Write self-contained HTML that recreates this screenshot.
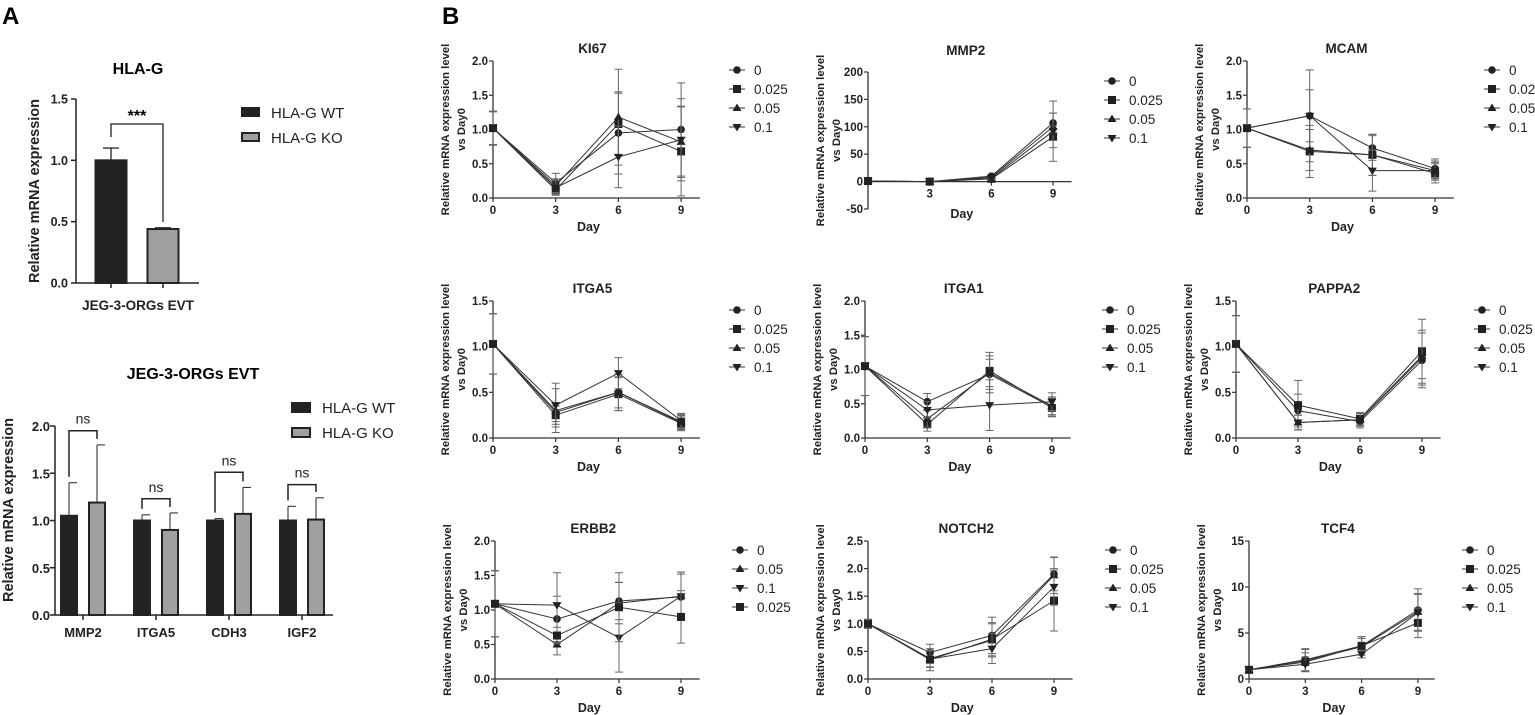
<!DOCTYPE html>
<html><head><meta charset="utf-8">
<style>
body{margin:0;background:#fff;}
svg{display:block;font-family:"Liberation Sans",Arial,sans-serif;}
</style></head>
<body>
<svg id="fig" width="1535" height="715" viewBox="0 0 1535 715" xmlns="http://www.w3.org/2000/svg">
<text x="2" y="24" font-size="24" font-weight="bold">A</text>
<text x="442" y="24" font-size="24" font-weight="bold">B</text>
<g id="gA1"></g>
<g id="gA2"></g>
<g id="gB"></g>
</svg>
<script>
// ---------- Panel A data ----------
const a1Groups = ["HLA-G WT","HLA-G KO"];
const a1Values = [1.0, 0.44];
const a1Errors = [0.1, 0.01];
const a2Categories = ["MMP2","ITGA5","CDH3","IGF2"];
const a2WT = [1.05, 1.0, 1.0, 1.0];
const a2WTErr = [0.35, 0.06, 0.02, 0.15];
const a2KO = [1.19, 0.9, 1.07, 1.01];
const a2KOErr = [0.61, 0.18, 0.28, 0.23];
const a2Bracket = [1.95, 1.23, 1.51, 1.38];

// ---------- Panel B data ----------
const days = [0,3,6,9];
const ki67 = [[1.02,0.22,0.95,1.0],[1.02,0.12,1.08,0.68],[1.02,0.18,1.18,0.82],[1.02,0.15,0.6,0.85]];
const ki67Err = [[0.25,0.14,0.6,0.68],[0.24,0.08,0.45,0.65],[0.24,0.1,0.7,0.52],[0.24,0.1,0.45,0.6]];
const mmp2 = [[1,0,10,107],[1,0,5,82],[1,0,8,100],[1,0,6,92]];
const mmp2Err = [[0,0,3,18],[0,0,2,20],[0,0,2,25],[0,0,2,55]];
const mcam = [[1.02,1.2,0.73,0.43],[1.02,0.68,0.63,0.36],[1.02,0.7,0.63,0.4],[1.02,1.2,0.4,0.4]];
const mcamErr = [[0.28,0.67,0.18,0.14],[0.28,0.38,0.3,0.14],[0.28,0.3,0.3,0.14],[0.28,0.38,0.3,0.12]];
const itga5 = [[1.03,0.28,0.5,0.17],[1.03,0.25,0.48,0.16],[1.03,0.3,0.5,0.18],[1.03,0.36,0.71,0.19]];
const itga5Err = [[0.33,0.1,0.17,0.08],[0.33,0.1,0.18,0.08],[0.33,0.24,0.2,0.08],[0.33,0.24,0.17,0.08]];
const itga1 = [[1.05,0.53,0.93,0.45],[1.05,0.2,0.98,0.44],[1.05,0.28,0.95,0.47],[1.05,0.41,0.48,0.53]];
const itga1Err = [[0.43,0.12,0.27,0.13],[0.43,0.1,0.27,0.13],[0.43,0.12,0.2,0.13],[0.43,0.12,0.37,0.13]];
const pappa2 = [[1.03,0.3,0.18,0.85],[1.03,0.36,0.21,0.95],[1.03,0.17,0.2,0.9],[1.03,0.17,0.2,0.88]];
const pappa2Err = [[0.31,0.18,0.07,0.3],[0.31,0.27,0.07,0.35],[0.31,0.08,0.07,0.25],[0.31,0.08,0.07,0.3]];
const erbb2 = [[1.09,0.87,1.13,1.19],[1.09,0.5,1.1,1.2],[1.09,1.07,0.6,1.2],[1.09,0.63,1.04,0.9]];
const erbb2Err = [[0.48,0.33,0.27,0.33],[0.48,0.15,0.3,0.35],[0.48,0.47,0.5,0.35],[0.48,0.12,0.5,0.38]];
const notch2 = [[1.0,0.48,0.79,1.9],[1.0,0.35,0.72,1.42],[1.0,0.37,0.7,1.88],[1.0,0.36,0.55,1.67]];
const notch2Err = [[0.08,0.15,0.33,0.3],[0.08,0.2,0.3,0.55],[0.08,0.15,0.3,0.33],[0.08,0.15,0.27,0.33]];
const tcf4 = [[1,2.1,3.6,7.5],[1,1.85,3.6,6.1],[1,2.0,3.5,7.3],[1,1.6,2.7,7.2]];
const tcf4Err = [[0.1,1.2,1.0,2.3],[0.1,1.0,1.0,1.6],[0.1,1.2,0.9,2.0],[0.1,0.8,0.4,2.0]];
const legend4 = ["0","0.025","0.05","0.1"];
const legendErbb2 = ["0","0.05","0.1","0.025"];

const NS="http://www.w3.org/2000/svg";
function mk(parent,tag,attrs,text){const e=document.createElementNS(NS,tag);for(const k in attrs)e.setAttribute(k,attrs[k]);if(text!==undefined)e.textContent=text;parent.appendChild(e);return e;}

// ---------- Panel A1 ----------
(function(){
const g=document.getElementById('gA1');
const ax=76, y0=283, yTop=99, ymax=1.5;
const Y=v=>y0-(v/ymax)*(y0-yTop);
const centers=[111,163], bw=33;
let t=mk(g,'text',{x:138,y:74,'font-size':16,'font-weight':'bold','text-anchor':'middle'},'HLA-G');


a1Values.forEach((v,i)=>{
  const fill=i===0?'#222':'#a0a0a0';
  const r=mk(g,'rect',{x:centers[i]-bw/2+1,y:Y(v),width:bw-2,height:y0-Y(v),fill:fill,stroke:'#222','stroke-width':2});
  
  
  mk(g,'line',{x1:centers[i],x2:centers[i],y1:Y(v),y2:Y(v+a1Errors[i]),stroke:'#222','stroke-width':1.3});
  mk(g,'line',{x1:centers[i]-8,x2:centers[i]+8,y1:Y(v+a1Errors[i]),y2:Y(v+a1Errors[i]),stroke:'#222','stroke-width':1.3});
  mk(g,'line',{x1:centers[i],x2:centers[i],y1:y0,y2:y0+5,stroke:'#222','stroke-width':1.5});
});
mk(g,'line',{x1:ax,x2:ax,y1:yTop,y2:y0,stroke:'#222','stroke-width':1.5});
mk(g,'line',{x1:ax,x2:199,y1:y0,y2:y0,stroke:'#222','stroke-width':1.5});
[0,0.5,1.0,1.5].forEach(v=>{
  mk(g,'line',{x1:ax-5,x2:ax,y1:Y(v),y2:Y(v),stroke:'#222','stroke-width':1.5});
  mk(g,'text',{x:ax-8,y:Y(v)+4.5,'font-size':12.5,'font-weight':'bold','text-anchor':'end',fill:'#222'},v.toFixed(1));
});
mk(g,'path',{d:`M111 137 V124 H163 V222`,fill:'none',stroke:'#222','stroke-width':1.3});
mk(g,'text',{x:137,y:121,'font-size':16,'font-weight':'bold','text-anchor':'middle'},'***');
mk(g,'text',{x:138,y:310,'font-size':13.5,'font-weight':'bold','text-anchor':'middle',fill:'#222'},'JEG-3-ORGs EVT');
mk(g,'text',{x:0,y:0,'font-size':14.5,'font-weight':'bold','text-anchor':'middle',fill:'#222',transform:'translate(39,191) rotate(-90)'},'Relative mRNA expression');
a1Groups.forEach((n,i)=>{
  const ly=112+25*i;
  const r=mk(g,'rect',{x:242,y:ly-4,width:17,height:8,fill:i===0?'#222':'#a0a0a0',stroke:'#222','stroke-width':2});
  
  
  mk(g,'text',{x:271,y:ly+6,'font-size':15,fill:'#222'},n);
});
})();

// ---------- Panel A2 ----------
(function(){
const g=document.getElementById('gA2');
const ax=55, y0=615, yTop=426, ymax=2.0;
const Y=v=>y0-(v/ymax)*(y0-yTop);
const X=i=>83+73*i;
mk(g,'text',{x:193,y:379,'font-size':16,'font-weight':'bold','text-anchor':'middle'},'JEG-3-ORGs EVT');
a2Categories.forEach((c,i)=>{
  const cx=X(i);
  [[a2WT,a2WTErr,'#222',-14,'wt'],[a2KO,a2KOErr,'#a0a0a0',14,'ko']].forEach(s=>{
    const v=s[0][i], e=s[1][i], bx=cx+s[3];
    const r=mk(g,'rect',{x:bx-8,y:Y(v),width:16,height:y0-Y(v),fill:s[2],stroke:'#222','stroke-width':2});
    
    
    mk(g,'line',{x1:bx,x2:bx,y1:Y(v),y2:Y(v+e),stroke:'#222','stroke-width':1});
    mk(g,'line',{x1:bx,x2:bx+8,y1:Y(v+e),y2:Y(v+e),stroke:'#222','stroke-width':1});
  });
  mk(g,'line',{x1:cx,x2:cx,y1:y0,y2:y0+5,stroke:'#222','stroke-width':1.5});
  mk(g,'text',{x:cx,y:y0+22,'font-size':13,'font-weight':'bold','text-anchor':'middle',fill:'#222'},c);
  const by=Y(a2Bracket[i]);
  const lb=Y(a2WT[i]+a2WTErr[i])-6, rb=Y(a2KO[i]+a2KOErr[i])-6;
  mk(g,'path',{d:`M${cx-14} ${lb} V${by} H${cx+14} V${rb}`,fill:'none',stroke:'#222','stroke-width':1.5});
  mk(g,'text',{x:cx,y:by-7,'font-size':14,'text-anchor':'middle',fill:'#222'},'ns');
});
mk(g,'line',{x1:ax,x2:ax,y1:yTop,y2:y0,stroke:'#222','stroke-width':1.5});
mk(g,'line',{x1:ax,x2:333,y1:y0,y2:y0,stroke:'#222','stroke-width':1.5});
[0,0.5,1.0,1.5,2.0].forEach(v=>{
  mk(g,'line',{x1:ax-5,x2:ax,y1:Y(v),y2:Y(v),stroke:'#222','stroke-width':1.5});
  mk(g,'text',{x:ax-5,y:Y(v)+5,'font-size':13,'font-weight':'bold','text-anchor':'end',fill:'#222'},v.toFixed(1));
});
mk(g,'text',{x:0,y:0,'font-size':14.5,'font-weight':'bold','text-anchor':'middle',fill:'#222',transform:'translate(13,510) rotate(-90)'},'Relative mRNA expression');
["HLA-G WT","HLA-G KO"].forEach((n,i)=>{
  const ly=407+25*i;
  mk(g,'rect',{x:292,y:ly-4,width:18,height:9,fill:i===0?'#222':'#a0a0a0',stroke:'#222','stroke-width':2});
  mk(g,'text',{x:322,y:ly+6,'font-size':15,fill:'#222'},n);
});
})();

// ---------- Panel B ----------
function marker(g,kind,x,y){
  if(kind===0) return mk(g,'circle',{cx:x,cy:y,r:3.8,fill:'#222'});
  if(kind===1) return mk(g,'rect',{x:x-4,y:y-4,width:8,height:8,fill:'#222'});
  if(kind===2) return mk(g,'path',{d:`M${x} ${y-4.5} L${x+4.5} ${y+3} L${x-4.5} ${y+3}Z`,fill:'#222'});
  return mk(g,'path',{d:`M${x} ${y+4.5} L${x+4.5} ${y-3} L${x-4.5} ${y-3}Z`,fill:'#222'});
}
function lineChart(cfg){
  const root=document.getElementById('gB');
  const g=mk(root,'g',{});
  
  
  const {ax,top,bot,per3,ymin,ymax}=cfg;
  const X=d=>ax+d/3*per3;
  const Y=v=>bot-(v-ymin)/(ymax-ymin)*(bot-top);
  const xEnd=ax+per3*3.3;
  const xAxisY=Y(Math.max(0,ymin));
  const tt=mk(g,'text',{x:(ax+xEnd)/2-4,y:cfg.titleY,'font-size':13.5,'font-weight':'bold','text-anchor':'middle',fill:'#222'},cfg.title);
  
  
  mk(g,'line',{x1:ax,x2:ax,y1:top,y2:bot,stroke:'#333','stroke-width':1.3});
  mk(g,'line',{x1:ax,x2:xEnd,y1:xAxisY,y2:xAxisY,stroke:'#333','stroke-width':1.3});
  cfg.ticks.forEach(v=>{
    mk(g,'line',{x1:ax-4,x2:ax,y1:Y(v),y2:Y(v),stroke:'#333','stroke-width':1.2});
    mk(g,'text',{x:ax-5,y:Y(v)+4,'font-size':11.5,'font-weight':'bold','text-anchor':'end',fill:'#222'},cfg.tickFmt(v));
  });
  days.forEach(d=>{
    mk(g,'line',{x1:X(d),x2:X(d),y1:xAxisY,y2:xAxisY+4,stroke:'#333','stroke-width':1.2});
    if(!(cfg.hideZeroX&&d===0)) mk(g,'text',{x:X(d),y:xAxisY+16,'font-size':11.5,'font-weight':'bold','text-anchor':'middle',fill:'#222'},String(d));
  });
  mk(g,'text',{x:(ax+xEnd)/2-8,y:cfg.dayY||(bot+33),'font-size':12.5,'font-weight':'bold','text-anchor':'middle',fill:'#222'},'Day');
  const my=(top+bot)/2;
  mk(g,'text',{x:0,y:0,'font-size':11.3,'font-weight':'bold','text-anchor':'middle',fill:'#222',transform:`translate(${ax-44},${my}) rotate(-90)`},'Relative mRNA expression level');
  mk(g,'text',{x:0,y:0,'font-size':11.3,'font-weight':'bold','text-anchor':'middle',fill:'#222',transform:`translate(${ax-28},${my}) rotate(-90)`},'vs Day0');
  cfg.data.forEach((s,si)=>{
    const kind=cfg.kinds[si];
    s.forEach((v,di)=>{
      const e=cfg.err[si][di];
      if(e>0){
        const x=X(days[di]);
        mk(g,'line',{x1:x,x2:x,y1:Y(v-e),y2:Y(v+e),stroke:'#666','stroke-width':1});
        mk(g,'line',{x1:x-4,x2:x+4,y1:Y(v-e),y2:Y(v-e),stroke:'#666','stroke-width':1});
        mk(g,'line',{x1:x-4,x2:x+4,y1:Y(v+e),y2:Y(v+e),stroke:'#666','stroke-width':1});
      }
    });
    const pts=s.map((v,di)=>X(days[di])+','+Y(v)).join(' ');
    const pl=mk(g,'polyline',{points:pts,fill:'none',stroke:'#333','stroke-width':1});
    
    
    s.forEach((v,di)=>{
      const m=marker(g,kind,X(days[di]),Y(v));
      
      
    });
  });
  cfg.legend.forEach((n,i)=>{
    const ly=top+9+19*i, lx=cfg.lx;
    const le=mk(g,'g',{});
    
    
    mk(le,'line',{x1:lx-8,x2:lx+8,y1:ly,y2:ly,stroke:'#333','stroke-width':1});
    marker(le,cfg.kinds[i],lx,ly);
    mk(le,'text',{x:lx+17,y:ly+5,'font-size':13.5,fill:'#222'},n);
  });
}
const f1=v=>v.toFixed(1), f0=v=>String(v);
const K=[0,1,2,3], KE=[0,2,3,1];
lineChart({name:'ki67',title:'KI67',titleY:53,ax:493,top:61,bot:198,per3:62.7,ymin:0,ymax:2,ticks:[0,0.5,1,1.5,2],tickFmt:f1,data:ki67,err:ki67Err,kinds:K,legend:legend4,lx:737});
lineChart({name:'mmp2',title:'MMP2',titleY:55,ax:868,top:72,bot:209,per3:61.7,ymin:-50,ymax:200,ticks:[-50,0,50,100,150,200],tickFmt:f0,data:mmp2,err:mmp2Err,kinds:K,legend:legend4,lx:1112,hideZeroX:true,dayY:218});
lineChart({name:'mcam',title:'MCAM',titleY:53,ax:1247,top:61,bot:198,per3:62.7,ymin:0,ymax:2,ticks:[0,0.5,1,1.5,2],tickFmt:f1,data:mcam,err:mcamErr,kinds:K,legend:legend4,lx:1492});
lineChart({name:'itga5',title:'ITGA5',titleY:293,ax:493,top:301,bot:438,per3:62.7,ymin:0,ymax:1.5,ticks:[0,0.5,1,1.5],tickFmt:f1,data:itga5,err:itga5Err,kinds:K,legend:legend4,lx:737});
lineChart({name:'itga1',title:'ITGA1',titleY:293,ax:865,top:301,bot:438,per3:62.3,ymin:0,ymax:2,ticks:[0,0.5,1,1.5,2],tickFmt:f1,data:itga1,err:itga1Err,kinds:K,legend:legend4,lx:1110});
lineChart({name:'pappa2',title:'PAPPA2',titleY:293,ax:1236,top:301,bot:438,per3:62,ymin:0,ymax:1.5,ticks:[0,0.5,1,1.5],tickFmt:f1,data:pappa2,err:pappa2Err,kinds:K,legend:legend4,lx:1482});
lineChart({name:'erbb2',title:'ERBB2',titleY:533,ax:495,top:541,bot:679,per3:62,ymin:0,ymax:2,ticks:[0,0.5,1,1.5,2],tickFmt:f1,data:erbb2,err:erbb2Err,kinds:KE,legend:legendErbb2,lx:740});
lineChart({name:'notch2',title:'NOTCH2',titleY:533,ax:868,top:541,bot:679,per3:62,ymin:0,ymax:2.5,ticks:[0,0.5,1,1.5,2,2.5],tickFmt:f1,data:notch2,err:notch2Err,kinds:K,legend:legend4,lx:1113});
lineChart({name:'tcf4',title:'TCF4',titleY:533,ax:1249,top:541,bot:679,per3:56.3,ymin:0,ymax:15,ticks:[0,5,10,15],tickFmt:f0,data:tcf4,err:tcf4Err,kinds:K,legend:legend4,lx:1470});
</script>
</body></html>
